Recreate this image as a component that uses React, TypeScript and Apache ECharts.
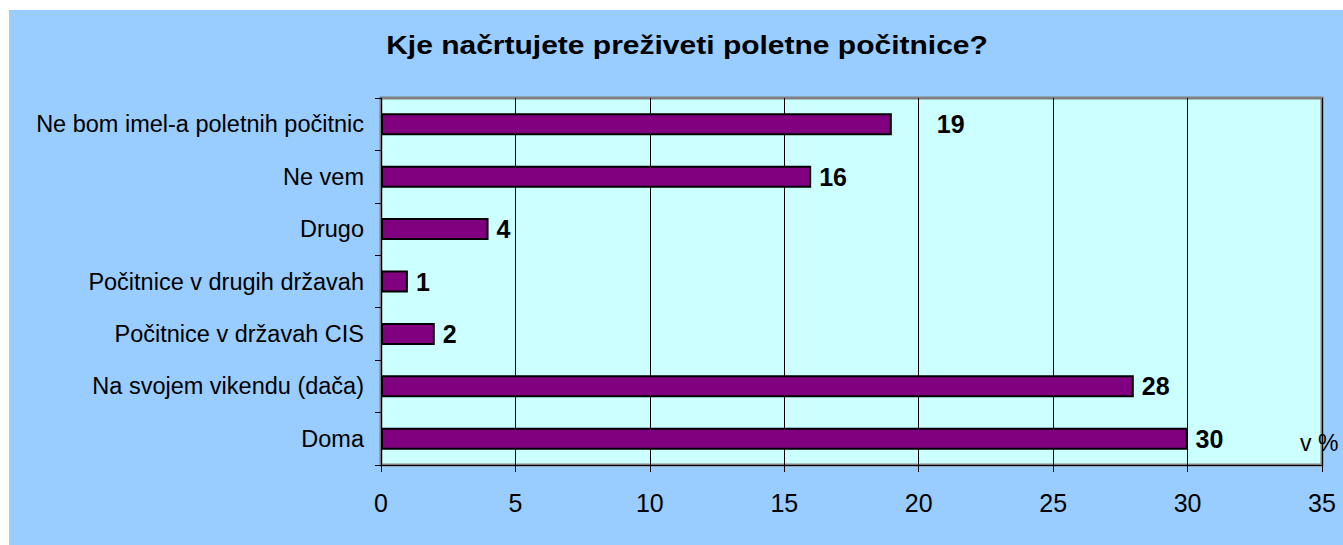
import React, { useEffect, useRef } from "react";
import * as echarts from "echarts";

const title = "Kje načrtujete preživeti poletne počitnice?";
const categories = [
  "Doma",
  "Na svojem vikendu (dača)",
  "Počitnice v državah CIS",
  "Počitnice v drugih državah",
  "Drugo",
  "Ne vem",
  "Ne bom imel-a poletnih počitnic",
];
const values = [30, 28, 2, 1, 4, 16, 19];
const unitLabel = "v %";

export default function App() {
  const ref = useRef<HTMLDivElement>(null);
  useEffect(() => {
    if (!ref.current) return;
    const chart = echarts.init(ref.current, undefined, { renderer: "svg" });
    const font = "Arial, 'Liberation Sans', sans-serif";
    chart.setOption({
      animation: false,
      backgroundColor: "#99CCFF",
      textStyle: { fontFamily: font },
      grid: {
        left: 372,
        right: 21,
        top: 88,
        bottom: 80,
        show: true,
        backgroundColor: "#CCFFFF",
        borderColor: "#808080",
        borderWidth: 3,
      },
      graphic: [
        {
          type: "text",
          x: 678,
          y: 35,
          scaleX: 1.2,
          originX: 0,
          style: {
            text: title,
            font: `bold 25px ${font}`,
            fill: "#000",
            textAlign: "center",
            textVerticalAlign: "middle",
          },
        },
        {
          type: "text",
          x: 1291,
          y: 433,
          style: {
            text: unitLabel,
            font: `23px ${font}`,
            fill: "#000",
            textVerticalAlign: "middle",
          },
        },
      ],
      xAxis: {
        type: "value",
        min: 0,
        max: 35,
        interval: 5,
        axisLine: { show: true, lineStyle: { color: "#000", width: 1 } },
        axisTick: { show: true, length: 7, lineStyle: { color: "#000" } },
        axisLabel: { color: "#000", fontSize: 25, margin: 25, fontFamily: font },
        splitLine: { show: true, lineStyle: { color: "#000", width: 1 } },
      },
      yAxis: {
        type: "category",
        data: categories,
        axisLine: { show: true, lineStyle: { color: "#000", width: 1 } },
        axisTick: { show: true, length: 6, lineStyle: { color: "#000" } },
        axisLabel: { color: "#000", fontSize: 23.5, margin: 17, fontFamily: font },
        splitLine: { show: false },
      },
      series: [
        {
          type: "bar",
          data: values.map((v) => ({
            value: v,
            label: { distance: v === 19 ? 45 : 8 },
          })),
          barWidth: 22,
          itemStyle: { color: "#800080", borderColor: "#000", borderWidth: 2 },
          label: {
            show: true,
            position: "right",
            color: "#000",
            fontWeight: "bold",
            fontSize: 25,
            fontFamily: font,
          },
        },
      ],
    });
    return () => chart.dispose();
  }, []);
  return (
    <div
      ref={ref}
      style={{ position: "absolute", left: 9, top: 10, width: 1334, height: 535 }}
    />
  );
}
